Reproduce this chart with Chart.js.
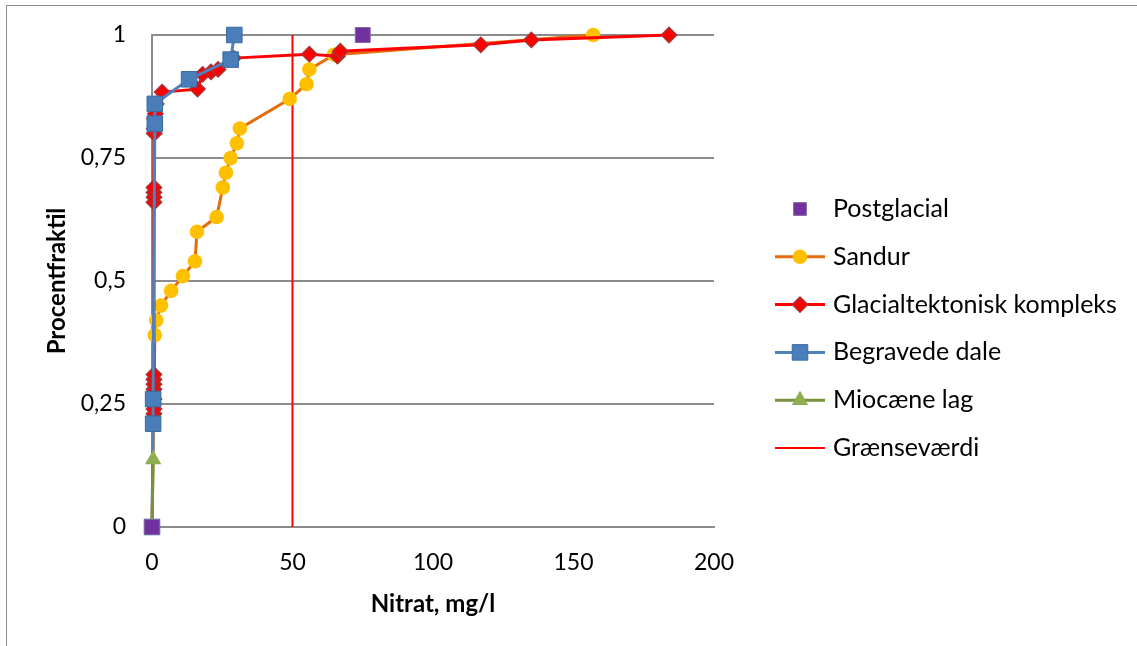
<!DOCTYPE html>
<html>
<head>
<meta charset="utf-8">
<script src="https://cdn.jsdelivr.net/npm/chart.js@4.4.0/dist/chart.umd.min.js"></script>
<style>
  html, body { margin: 0; padding: 0; background: #fff; }
  #wrap { position: relative; width: 1137px; height: 646px; overflow: hidden; }
  #frame { position: absolute; left: 6px; top: 5px; right: -4px; bottom: -4px;
           border-left: 1px solid #8c8c8c; border-top: 1px solid #8c8c8c; }
  canvas { position: absolute; left: 0; top: 0; }
</style>
</head>
<body>
<div id="wrap"><div id="frame"></div><canvas id="c" width="1137" height="646"></canvas></div>
<script>
// nitrate (mg/l) against cumulative fraction, per geological setting
const postglacialX = [0, 75];
const postglacialY = [0, 1];

const sandurX = [0, 1, 1.5, 3.2, 6.8, 11, 15.3, 16, 23, 25.2, 26.3, 28, 30.2, 31.3, 49, 55, 56, 64.8, 157];
const sandurY = [0, 0.39, 0.42, 0.45, 0.48, 0.51, 0.54, 0.60, 0.63, 0.69, 0.72, 0.75, 0.78, 0.81, 0.87, 0.90, 0.93, 0.96, 1.0];

const glacialX = [0.7, 0.7, 0.7, 0.7, 0.7, 0.7, 0.7, 0.7, 0.7, 0.7, 0.7, 0.8, 0.8, 0.9, 1.2, 1.5, 3.6, 16.2, 18, 21, 23.5, 29, 56, 66, 67, 117, 135, 184];
const glacialY = [0.23, 0.24, 0.26, 0.28, 0.29, 0.30, 0.31, 0.66, 0.67, 0.68, 0.69, 0.80, 0.81, 0.83, 0.84, 0.86, 0.884, 0.89, 0.92, 0.925, 0.93, 0.953, 0.961, 0.957, 0.967, 0.98, 0.99, 1.0];

const begravedeX = [0, 0.4, 0.4, 1, 1, 13.2, 28, 29.3];
const begravedeY = [0, 0.21, 0.26, 0.82, 0.86, 0.91, 0.95, 1.0];

const miocaeneX = [0, 0.4];
const miocaeneY = [0, 0.137];

const limitX = [50, 50];
const limitY = [0, 1];

const xTicks = [0, 50, 100, 150, 200];
const yTicks = [0, 0.25, 0.5, 0.75, 1];

const pts = (xs, ys) => xs.map((x, i) => ({ x, y: ys[i] }));

const FONT = 'Lato';

// legend in the spreadsheet style: line sample with the marker on top of it
const sheetLegend = {
  id: 'sheetLegend',
  afterDraw(chart) {
    const ctx = chart.ctx;
    const x0 = chart.chartArea.right + 61;
    const top = 209, step = 47.8;
    chart.data.datasets.forEach((ds, i) => {
      const y = top + i * step;
      ctx.save();
      if (ds.showLine !== false) {
        ctx.strokeStyle = ds.borderColor;
        ctx.lineWidth = ds.borderWidth;
        ctx.beginPath();
        ctx.moveTo(x0, y);
        ctx.lineTo(x0 + 50, y);
        ctx.stroke();
      }
      if (ds.pointRadius > 0) {
        ctx.fillStyle = ds.pointBackgroundColor;
        ctx.strokeStyle = ds.pointBorderColor;
        ctx.lineWidth = ds.pointBorderWidth;
        Chart.helpers.drawPoint(ctx, {
          pointStyle: ds.pointStyle, radius: ds.legendRadius || ds.pointRadius,
          rotation: 0, borderWidth: ds.pointBorderWidth
        }, x0 + 25, y);
      }
      ctx.fillStyle = '#000';
      ctx.font = '25px ' + FONT;
      ctx.textAlign = 'left';
      ctx.textBaseline = 'middle';
      ctx.fillText(ds.label, x0 + 58, y);
      ctx.restore();
    });
  }
};

new Chart(document.getElementById('c'), {
  type: 'scatter',
  data: {
    datasets: [
      {
        label: 'Postglacial', data: pts(postglacialX, postglacialY), order: 0,
        showLine: false, borderColor: '#7030A0',
        pointStyle: 'rect', pointRadius: 10.5, legendRadius: 9,
        pointBackgroundColor: '#7030A0', pointBorderColor: '#8064A2', pointBorderWidth: 1
      },
      {
        label: 'Sandur', data: pts(sandurX, sandurY), order: 4,
        showLine: true, borderColor: '#E46C0A', borderWidth: 3,
        pointStyle: 'circle', pointRadius: 7.3,
        pointBackgroundColor: '#FFC000', pointBorderColor: '#FFC000', pointBorderWidth: 0
      },
      {
        label: 'Glacialtektonisk kompleks', data: pts(glacialX, glacialY), order: 3,
        showLine: true, borderColor: '#FF0000', borderWidth: 3,
        pointStyle: 'rectRot', pointRadius: 7.6,
        pointBackgroundColor: '#FF0000', pointBorderColor: '#A83232', pointBorderWidth: 1.5
      },
      {
        label: 'Begravede dale', data: pts(begravedeX, begravedeY), order: 2,
        showLine: true, borderColor: '#4F81BD', borderWidth: 3,
        pointStyle: 'rect', pointRadius: 11,
        pointBackgroundColor: '#4A7EBB', pointBorderColor: '#3D6A9E', pointBorderWidth: 1
      },
      {
        label: 'Miocæne lag', data: pts(miocaeneX, miocaeneY), order: 1,
        showLine: true, borderColor: '#76923C', borderWidth: 3,
        pointStyle: 'triangle', pointRadius: 9.5,
        pointBackgroundColor: '#8FAE4F', pointBorderColor: '#8FAE4F', pointBorderWidth: 0
      },
      {
        label: 'Grænseværdi', data: pts(limitX, limitY), order: 5,
        showLine: true, borderColor: '#FF0000', borderWidth: 2,
        pointRadius: 0
      }
    ]
  },
  options: {
    responsive: false,
    animation: false,
    clip: false,
    datasets: { scatter: { clip: false, tension: 0 } },
    layout: { padding: { left: 43, right: 423, top: 35, bottom: 0 } },
    plugins: { legend: { display: false }, tooltip: { enabled: false } },
    scales: {
      x: {
        type: 'linear', min: 0, max: 200,
        afterFit: (s) => { s.height = 119; },
        afterBuildTicks: (s) => { s.ticks = xTicks.map(v => ({ value: v })); },
        grid: { display: false, drawTicks: false },
        border: { display: true, color: '#8c8c8c', width: 2 },
        ticks: { color: '#000', font: { family: FONT, size: 23 }, padding: 22, maxRotation: 0 },
        title: { display: true, text: 'Nitrat, mg/l', color: '#000',
                 font: { family: FONT, size: 24, weight: 'bold' }, padding: { top: 0, bottom: 27 } }
      },
      y: {
        type: 'linear', min: 0, max: 1,
        afterFit: (s) => { s.width = 109; s.paddingTop = 0; s.paddingBottom = 0; },
        afterBuildTicks: (s) => { s.ticks = yTicks.map(v => ({ value: v })); },
        grid: { color: '#8c8c8c', lineWidth: 2, drawTicks: false },
        border: { display: true, color: '#8c8c8c', width: 2 },
        ticks: { color: '#000', font: { family: FONT, size: 23 }, padding: 26,
                 callback: (v) => String(v).replace('.', ',') },
        title: { display: true, text: 'Procentfraktil', color: '#000',
                 font: { family: FONT, size: 24, weight: 'bold' }, padding: 0 }
      }
    }
  },
  plugins: [sheetLegend]
});
</script>
</body>
</html>
